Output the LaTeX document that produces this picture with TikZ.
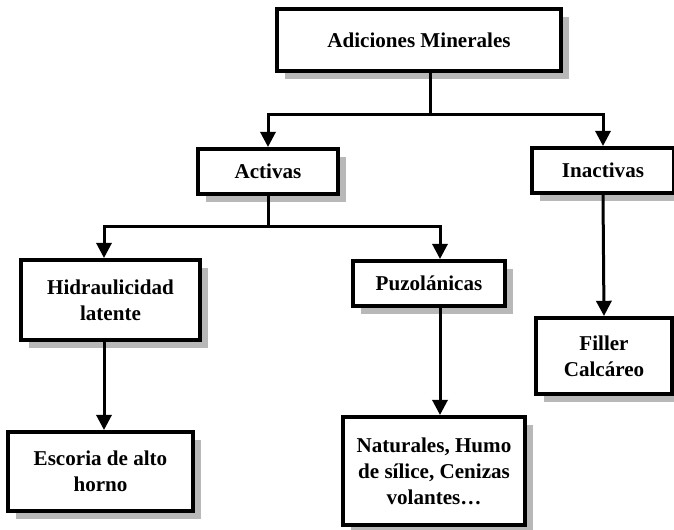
\documentclass[tikz,border=0pt]{standalone}
\usepackage{fontspec}
\setmainfont{Liberation Serif}
\usetikzlibrary{positioning,arrows.meta,calc,shadows}
\definecolor{shadegrey}{gray}{0.72}
\tikzset{
  fig/.style={font=\bfseries\fontsize{15}{18.5}\selectfont},
  box/.style={draw,line width=1mm,fill=white,align=center,inner sep=2pt,
              drop shadow={shadow xshift=2mm,shadow yshift=-2mm,
                           fill=shadegrey,opacity=1}},
  ln/.style={line width=0.75mm},
  arr/.style={ln,-{Triangle[length=3.8mm,width=3.8mm]}},
}

\begin{document}
\begin{tikzpicture}[fig,x=0.25mm,y=-0.25mm]
\useasboundingbox (0,0) rectangle (674,530);

% =======================  boxes  =====================
\node[box,minimum width=71mm,minimum height=15.5mm] (adic) at (419,40)
     {Adiciones Minerales};
\node[box,minimum width=35mm,minimum height=11.25mm] (activ) at (268,171.5)
     {Activas};
\node[box,minimum width=35.5mm,minimum height=11.25mm] (inact) at (603,170.5)
     {Inactivas};
\node[box,minimum width=44.75mm,minimum height=20mm] (hidr) at (110.5,300)
     {Hidraulicidad\\latente};
\node[box,minimum width=38mm,minimum height=11.25mm] (puzo) at (429,283.5)
     {Puzolánicas};
\node[box,minimum width=34mm,minimum height=19mm] (fill) at (604,356)
     {Filler\\Calcáreo};
\node[box,minimum width=46.25mm,minimum height=19.75mm] (esc) at (100.5,471.5)
     {Escoria de alto\\horno};
\node[box,minimum width=45.5mm,minimum height=27mm] (nat) at (434,471)
     {Naturales, Humo\\de sílice, Cenizas\\volantes…};

% =======================  connectors  =====================
\coordinate (j1) at (430,115);
\draw[ln] (adic.south -| j1) -- (j1);
\draw[arr] (j1) -| (activ.north);
\draw[arr] (j1) -| (inact.north);

\coordinate (j2) at (268,227);
\coordinate (j2l) at (104,227);
\coordinate (j2r) at (440,227);
\draw[ln] (activ.south -| j2) -- (j2);
\draw[arr] (j2) -- (j2l) -- (j2l |- hidr.north);
\draw[arr] (j2) -- (j2r) -- (j2r |- puzo.north);

\draw[arr] (hidr.south -| j2l) -- (esc.north -| j2l);
\draw[arr] (puzo.south -| j2r) -- (nat.north -| j2r);
\draw[arr] (inact.south) -- (fill.north);
\end{tikzpicture}
\end{document}
